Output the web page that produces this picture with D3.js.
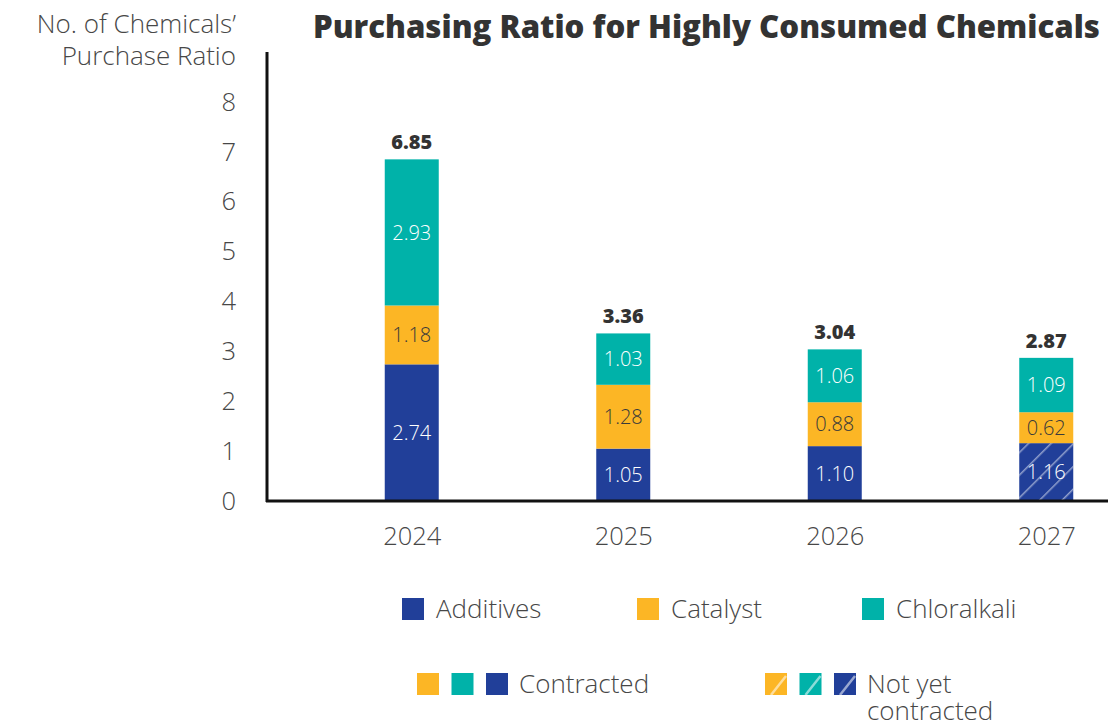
<!DOCTYPE html>
<html>
<head>
<meta charset="utf-8">
<script src="https://cdn.jsdelivr.net/npm/d3@7/dist/d3.min.js"></script>
<style>
  html, body { margin: 0; padding: 0; background: #fff; }
  svg { display: block; }
  text { font-family: "Open Sans", "Noto Sans", sans-serif; }
</style>
</head>
<body>
<svg id="chart" width="1108" height="724"></svg>
<script>
// Purchase ratio per year, stacked by chemical group
const years = ["2024", "2025", "2026", "2027"];
const additives = [2.74, 1.05, 1.10, 1.16];
const catalyst = [1.18, 1.28, 0.88, 0.62];
const chloralkali = [2.93, 1.03, 1.06, 1.09];
const totals = [6.85, 3.36, 3.04, 2.87];
// Segments not yet contracted: [yearIndex, series]
const notYetContracted = [[3, "Additives"]];
const yTicks = [0, 1, 2, 3, 4, 5, 6, 7, 8];

const seriesNames = ["Additives", "Catalyst", "Chloralkali"];
const seriesValues = [additives, catalyst, chloralkali];
const colors = { Additives: "#213F99", Catalyst: "#FCB625", Chloralkali: "#00B2A9" };
const labelColors = { Additives: "#ffffff", Catalyst: "#3a3a3a", Chloralkali: "#ffffff" };
const textGrey = "#474747";

const svg = d3.select("#chart");

const y = d3.scaleLinear().domain([0, 8]).range([501, 102]);
const x = d3.scalePoint().domain(years).range([306, 1152]).padding(0.5);
const barW = 54;

// hatch pattern for not-yet-contracted segments
const defs = svg.append("defs");
const pat = defs.append("pattern")
  .attr("id", "hatch")
  .attr("patternUnits", "userSpaceOnUse")
  .attr("width", 16).attr("height", 16)
  .attr("patternTransform", "rotate(45)");
pat.append("line")
  .attr("x1", 0).attr("y1", 0).attr("x2", 0).attr("y2", 16)
  .attr("stroke", "rgba(255,255,255,0.5)").attr("stroke-width", 3);

// stack data
const rows = years.map((yr, i) => {
  const r = { year: yr };
  seriesNames.forEach((s, k) => r[s] = seriesValues[k][i]);
  return r;
});
const stacked = d3.stack().keys(seriesNames)(rows);

const isHatched = (i, s) => notYetContracted.some(d => d[0] === i && d[1] === s);

const gBars = svg.append("g");
stacked.forEach(layer => {
  const s = layer.key;
  layer.forEach((d, i) => {
    const x0 = x(years[i]) - barW / 2;
    const y0 = y(d[1]), y1 = y(d[0]);
    gBars.append("rect")
      .attr("x", x0).attr("y", y0).attr("width", barW).attr("height", y1 - y0)
      .attr("fill", colors[s]);
    if (isHatched(i, s)) {
      gBars.append("rect")
        .attr("x", x0).attr("y", y0).attr("width", barW).attr("height", y1 - y0)
        .attr("fill", "url(#hatch)");
    }
    gBars.append("text")
      .attr("x", x(years[i])).attr("y", (y0 + y1) / 2)
      .attr("dy", "0.36em")
      .attr("text-anchor", "middle")
      .attr("font-size", 20)
      .attr("font-weight", 300)
      .attr("fill", labelColors[s])
      .text(d.data[s].toFixed(2));
  });
});

// totals above bars
svg.append("g").selectAll("text")
  .data(years)
  .join("text")
  .attr("x", d => x(d))
  .attr("y", (d, i) => y(totals[i]) - 10)
  .attr("text-anchor", "middle")
  .attr("font-size", 20)
  .attr("font-weight", 800)
  .attr("fill", "#333")
  .text((d, i) => totals[i].toFixed(2));

// y axis
const yAxis = d3.axisLeft(y).tickValues(yTicks).tickSize(0).tickPadding(31).tickFormat(d3.format("d"));
const gy = svg.append("g").attr("transform", "translate(267,0)").call(yAxis);
gy.select(".domain").remove();
gy.selectAll("text").attr("font-size", 25.5).attr("font-weight", 300).attr("fill", textGrey)
  .attr("font-family", "'Open Sans', sans-serif");
svg.append("line").attr("x1", 267).attr("x2", 267).attr("y1", 52).attr("y2", 502)
  .attr("stroke", "#111").attr("stroke-width", 3);

// x axis
const xAxis = d3.axisBottom(x).tickSize(0).tickPadding(26);
const gx = svg.append("g").attr("transform", "translate(0,501)").call(xAxis);
gx.select(".domain").remove();
gx.selectAll("text").attr("font-size", 25.5).attr("font-weight", 300).attr("fill", textGrey)
  .attr("font-family", "'Open Sans', sans-serif");
svg.append("line").attr("x1", 266).attr("x2", 1108).attr("y1", 501).attr("y2", 501)
  .attr("stroke", "#111").attr("stroke-width", 3);

// y axis title
const yt = svg.append("text").attr("text-anchor", "end").attr("font-size", 26)
  .attr("font-weight", 300).attr("fill", textGrey);
yt.append("tspan").attr("x", 236).attr("y", 33).text("No. of Chemicals’");
yt.append("tspan").attr("x", 236).attr("y", 65).text("Purchase Ratio");

// title, sized to span from the axis to the right margin
const title = svg.append("text")
  .attr("x", 313).attr("y", 38)
  .attr("font-size", 30).attr("font-weight", 800).attr("fill", "#333")
  .text("Purchasing Ratio for Highly Consumed Chemicals");
const tw = title.node().getComputedTextLength();
title.attr("font-size", 30 * 787 / tw);

// legend: series
const legend1 = [
  { name: "Additives", x: 402 },
  { name: "Catalyst", x: 637 },
  { name: "Chloralkali", x: 862 }
];
const gl = svg.append("g");
legend1.forEach(l => {
  gl.append("rect").attr("x", l.x).attr("y", 598).attr("width", 22).attr("height", 22).attr("fill", colors[l.name]);
  gl.append("text").attr("x", l.x + 34).attr("y", 609).attr("dy", "0.36em")
    .attr("font-size", 26).attr("font-weight", 300).attr("fill", textGrey).text(l.name);
});

// legend: contract status
const order = ["Catalyst", "Chloralkali", "Additives"];
order.forEach((s, k) => {
  gl.append("rect").attr("x", 417 + k * 34.5).attr("y", 673).attr("width", 22).attr("height", 22).attr("fill", colors[s]);
  const hx = 765 + k * 34.5;
  gl.append("rect").attr("x", hx).attr("y", 673).attr("width", 22).attr("height", 22).attr("fill", colors[s]);
  gl.append("line").attr("x1", hx + 6).attr("y1", 695).attr("x2", hx + 21).attr("y2", 676)
    .attr("stroke", "rgba(255,255,255,0.55)").attr("stroke-width", 2.5);
});
gl.append("text").attr("x", 519).attr("y", 684).attr("dy", "0.36em")
  .attr("font-size", 26).attr("font-weight", 300).attr("fill", textGrey).text("Contracted");
const nyc = gl.append("text").attr("font-size", 26).attr("font-weight", 300).attr("fill", textGrey);
nyc.append("tspan").attr("x", 867).attr("y", 693).text("Not yet");
nyc.append("tspan").attr("x", 867).attr("y", 720).text("contracted");
</script>
</body>
</html>
